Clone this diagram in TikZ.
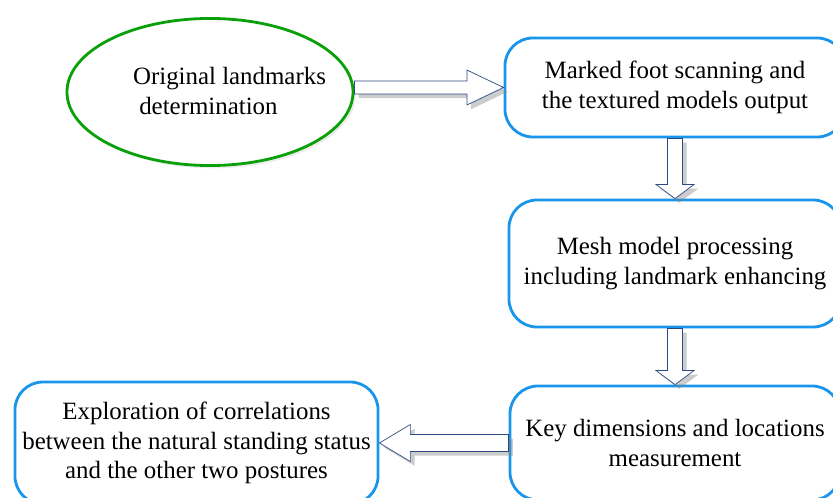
\documentclass[tikz,border=0pt]{standalone}
\usepackage{fontspec}
\setmainfont{Liberation Serif}
\usetikzlibrary{shapes.geometric}
\usetikzlibrary{shadows}
\usetikzlibrary{calc}
\definecolor{ovalgreen}{RGB}{10,160,10}
\definecolor{boxblue}{RGB}{25,150,235}
\definecolor{arrowline}{RGB}{45,75,130}

\begin{document}
\begin{tikzpicture}[
			     x=0.025cm, y=-0.025cm,
			     txt/.style={font=\fontsize{17.7}{20.8}\selectfont},
			     oval/.style={ellipse, draw=ovalgreen, line width=2pt, fill=white,
			        drop shadow={opacity=0.15, shadow xshift=2pt, shadow yshift=-2pt}},
			     stepbox/.style={txt, draw=boxblue, line width=2pt, rounded corners=0.7cm,
			        fill=white, align=center, inner sep=4pt},
			     arrowbody/.style={draw=arrowline, line width=0.5pt, fill=white,
			        drop shadow={opacity=0.4, shadow xshift=3pt, shadow yshift=-3pt}},
			     % #1 shaft half width, #2 head half width, #3 head length
			     blockarrow/.style n args={3}{to path={
			        let \p1=(\tikztostart), \p2=(\tikztotarget),
			            \n1={atan2(\y2-\y1,\x2-\x1)}, \n2={veclen(\x2-\x1,\y2-\y1)},
			            \n3={\n1+90}, \n4={\n1+180}, \n5={\n1-90}, \n6={\n2-#3} in
			        (\p1) ++(\n3:#1) -- ++(\n1:\n6) -- ++(\n3:{#2-#1}) -- (\p2)
			        -- ($(\p2)+(\n4:#3)+(\n5:#2)$) -- ++(\n3:{#2-#1}) -- ++(\n4:\n6) -- cycle}}
			     ]
\clip (0,0) rectangle (833,498);
\node[oval, minimum width=7.15cm, minimum height=3.675cm] (orig) at (210,92) {};
\node[txt, align=left] (origtext) at (229.5,91) {Original landmarks\\\hspace*{0.25em}determination};
\node[stepbox, minimum width=8.5cm, minimum height=2.475cm] (scan) at (675,87.5) {Marked foot scanning and\\the textured models output};
\node[stepbox, minimum width=8.3cm, minimum height=3.175cm] (mesh) at (675,263.5) {Mesh model processing\\including landmark enhancing};
\node[stepbox, minimum width=8.25cm, minimum height=2.85cm] (key) at (675,443) {Key dimensions and locations\\measurement};
\node[stepbox, minimum width=9.075cm, minimum height=3.05cm] (expl) at (196.5,443) {Exploration of correlations\\between the natural standing status\\and the other two postures};

\draw[arrowbody] (orig.east |- scan.west) to[blockarrow={4.6pt}{12.4pt}{26pt}] (scan.west);
\draw[arrowbody] (scan.south) to[blockarrow={5.3pt}{13.5pt}{10pt}] (mesh.north);
\draw[arrowbody] (mesh.south) to[blockarrow={5.3pt}{13.5pt}{10pt}] (key.north);
\draw[arrowbody] (key.west) to[blockarrow={6pt}{13.2pt}{22pt}] (expl.east);
\end{tikzpicture}
\end{document}
